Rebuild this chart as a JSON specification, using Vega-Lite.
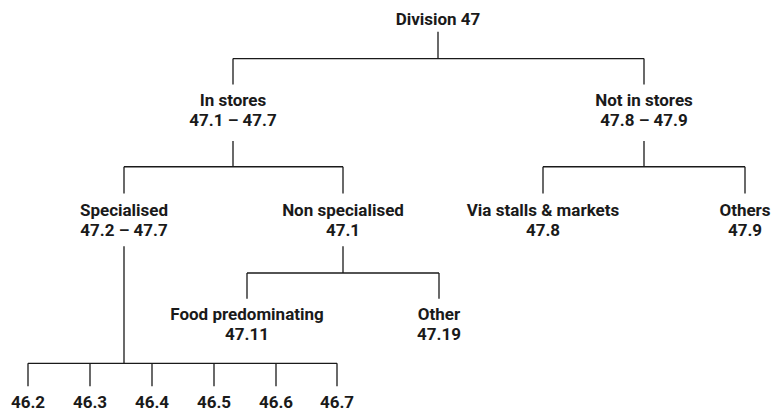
{
  "$schema": "https://vega.github.io/schema/vega-lite/v6.json",
  "width": 774,
  "height": 411,
  "autosize": {"type": "fit", "contains": "padding"},
  "padding": 0,
  "background": "white",
  "config": {"view": {"stroke": null}},
  "datasets": {
    "edges": [
      {"x": 438, "y": 32, "x2": 438, "y2": 59},
      {"x": 233, "y": 59, "x2": 644, "y2": 59},
      {"x": 233, "y": 59, "x2": 233, "y2": 85},
      {"x": 644, "y": 59, "x2": 644, "y2": 85},
      {"x": 233, "y": 142, "x2": 233, "y2": 168},
      {"x": 124, "y": 168, "x2": 343, "y2": 168},
      {"x": 124, "y": 168, "x2": 124, "y2": 195},
      {"x": 343, "y": 168, "x2": 343, "y2": 195},
      {"x": 644, "y": 142, "x2": 644, "y2": 168},
      {"x": 543, "y": 168, "x2": 745, "y2": 168},
      {"x": 543, "y": 168, "x2": 543, "y2": 195},
      {"x": 745, "y": 168, "x2": 745, "y2": 195},
      {"x": 124, "y": 248, "x2": 124, "y2": 366},
      {"x": 28, "y": 366, "x2": 337, "y2": 366},
      {"x": 28, "y": 366, "x2": 28, "y2": 389},
      {"x": 90, "y": 366, "x2": 90, "y2": 389},
      {"x": 152, "y": 366, "x2": 152, "y2": 389},
      {"x": 214, "y": 366, "x2": 214, "y2": 389},
      {"x": 276, "y": 366, "x2": 276, "y2": 389},
      {"x": 337, "y": 366, "x2": 337, "y2": 389},
      {"x": 343, "y": 248, "x2": 343, "y2": 275},
      {"x": 247, "y": 275, "x2": 439, "y2": 275},
      {"x": 247, "y": 275, "x2": 247, "y2": 301},
      {"x": 439, "y": 275, "x2": 439, "y2": 301}
    ],
    "labels": [
      {"x": 438, "y": 20, "text": "Division 47"},
      {"x": 233, "y": 102, "text": "In stores"},
      {"x": 233, "y": 122, "text": "47.1 – 47.7"},
      {"x": 644, "y": 102, "text": "Not in stores"},
      {"x": 644, "y": 122, "text": "47.8 – 47.9"},
      {"x": 124, "y": 213, "text": "Specialised"},
      {"x": 124, "y": 233, "text": "47.2 – 47.7"},
      {"x": 343, "y": 213, "text": "Non specialised"},
      {"x": 343, "y": 233, "text": "47.1"},
      {"x": 543, "y": 213, "text": "Via stalls & markets"},
      {"x": 543, "y": 233, "text": "47.8"},
      {"x": 745, "y": 213, "text": "Others"},
      {"x": 745, "y": 233, "text": "47.9"},
      {"x": 247, "y": 317, "text": "Food predominating"},
      {"x": 247, "y": 337, "text": "47.11"},
      {"x": 439, "y": 317, "text": "Other"},
      {"x": 439, "y": 337, "text": "47.19"},
      {"x": 28, "y": 406, "text": "46.2"},
      {"x": 90, "y": 406, "text": "46.3"},
      {"x": 152, "y": 406, "text": "46.4"},
      {"x": 214, "y": 406, "text": "46.5"},
      {"x": 276, "y": 406, "text": "46.6"},
      {"x": 337, "y": 406, "text": "46.7"}
    ]
  },
  "layer": [
    {
      "data": {"name": "edges"},
      "mark": {"type": "rule", "color": "#1a1a1a", "strokeWidth": 1.3},
      "encoding": {
        "x": {"field": "x", "type": "quantitative", "scale": {"domain": [0, 774], "nice": false, "zero": false}, "axis": null},
        "y": {"field": "y", "type": "quantitative", "scale": {"domain": [411, 0], "nice": false, "zero": false}, "axis": null},
        "x2": {"field": "x2"},
        "y2": {"field": "y2"}
      }
    },
    {
      "data": {"name": "labels"},
      "mark": {"type": "text", "font": "Roboto", "fontWeight": "bold", "fontSize": 17, "color": "#1a1a1a", "align": "center", "baseline": "middle"},
      "encoding": {
        "x": {"field": "x", "type": "quantitative", "scale": {"domain": [0, 774], "nice": false, "zero": false}, "axis": null},
        "y": {"field": "y", "type": "quantitative", "scale": {"domain": [411, 0], "nice": false, "zero": false}, "axis": null},
        "text": {"field": "text"}
      }
    }
  ]
}
